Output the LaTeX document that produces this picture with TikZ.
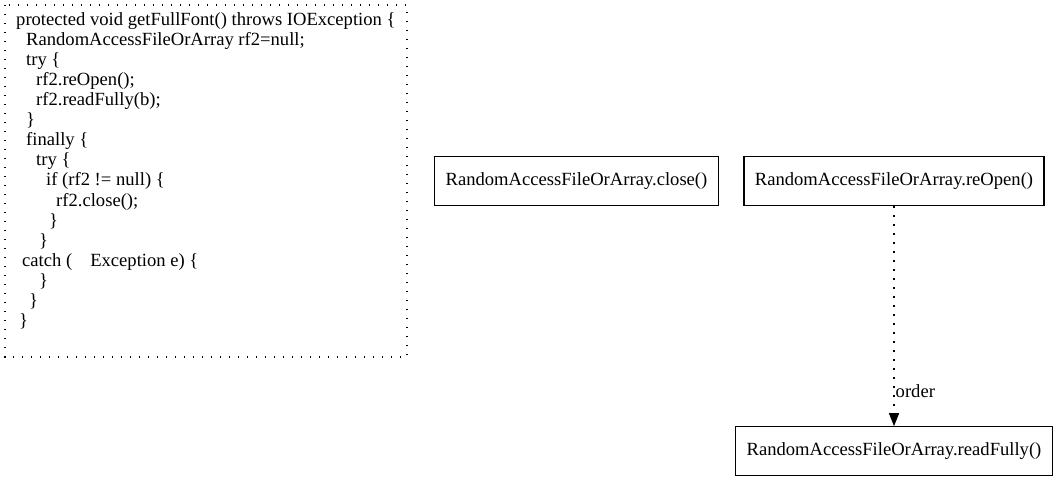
\documentclass[tikz,border=0pt]{standalone}
\usepackage{fontspec}
\setmainfont{Liberation Serif}
\usetikzlibrary{positioning,arrows.meta}

\begin{document}
\begin{tikzpicture}[x=1pt,y=1pt,>={Triangle[length=13pt,width=10pt]},
		font=\fontsize{18.6}{20.1}\selectfont,
		call/.style={draw,line width=1.3pt,minimum height=49pt,inner xsep=11pt},
		dotline/.style={line width=1.4pt,dash pattern=on 1.4pt off 7.6pt},
	]
		\useasboundingbox (0,0) rectangle (1057,-480);
		% cluster with the source of the method
		\draw[dotline] (5,-5) rectangle (407,-357);
		\node (src) [anchor=north west,align=left,inner sep=0pt] at (16,-12) {%
			protected void getFullFont() throws IOException \{\\
			\hspace*{10pt}RandomAccessFileOrArray rf2=null;\\
			\hspace*{10pt}try \{\\
			\hspace*{20pt}rf2.reOpen();\\
			\hspace*{20pt}rf2.readFully(b);\\
			\hspace*{10pt}\}\\
			\hspace*{10pt}finally \{\\
			\hspace*{20pt}try \{\\
			\hspace*{30pt}if (rf2 != null) \{\\
			\hspace*{40pt}rf2.close();\\
			\hspace*{33pt}\}\\
			\hspace*{23pt}\}\\
			\hspace*{6pt}catch (\hspace{18pt}Exception e) \{\\
			\hspace*{23pt}\}\\
			\hspace*{13pt}\}\\
			\hspace*{3pt}\}};

		\node (close) [call] at (576.5,-181) {RandomAccessFileOrArray.close()};
		\node (reopen) [call] at (894,-181) {RandomAccessFileOrArray.reOpen()};
		\node (readfully) [call,below=220pt of reopen] {RandomAccessFileOrArray.readFully()};

		\path[->]
			(reopen) edge[dotline] node[pos=0.84,right,inner sep=1pt] {order} (readfully)
		;
	\end{tikzpicture}
\end{document}
